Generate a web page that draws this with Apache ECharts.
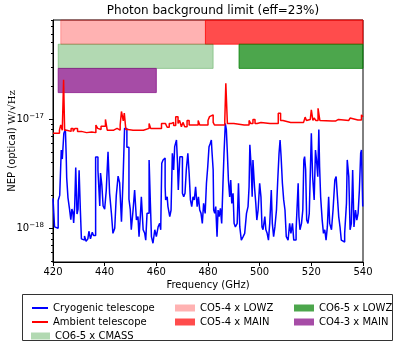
<!DOCTYPE html>
<html>
<head>
<meta charset="utf-8">
<script src="https://cdn.jsdelivr.net/npm/echarts@6/dist/echarts.min.js"></script>
<style>
  html, body { margin: 0; padding: 0; background: #fff; }
  #chart { width: 399px; height: 346px; }
</style>
</head>
<body>
<div id="chart"></div>
<script>
// NEP values in units of 1e-18 W/sqrt(Hz), [frequency GHz, NEP]
const cryogenic = [
  [420.0, 1.88], [420.6, 1.03], [421.3, 1.0], [422.0, 1.8], [422.6, 2.0], [423.2, 5.2], [423.6, 4.3],
  [424.2, 7.4], [424.8, 8.0], [425.1, 4.7], [425.3, 2.9], [425.8, 1.9], [426.4, 1.5], [426.9, 1.2],
  [427.3, 1.5], [427.7, 1.4], [428.0, 1.12], [428.4, 1.6], [428.8, 3.6], [429.3, 1.35], [429.7, 1.5],
  [430.1, 3.4], [430.6, 1.45], [431.0, 0.8], [431.6, 0.78], [432.2, 0.85], [432.8, 0.76], [433.5, 0.8],
  [433.9, 0.94], [434.5, 0.8], [435.2, 0.92], [435.7, 0.86], [436.5, 4.5], [437.4, 3.4], [438.1, 1.6],
  [438.4, 3.2], [438.9, 2.5], [439.4, 1.6], [440.0, 1.5], [440.6, 2.2], [441.3, 5.0], [441.9, 2.1],
  [442.6, 1.38], [443.2, 0.9], [443.9, 1.0], [444.5, 2.0], [445.2, 3.0], [445.8, 2.6], [446.5, 1.15],
  [447.1, 2.7], [447.7, 8.2], [448.6, 5.5], [449.4, 1.85], [449.9, 1.5], [450.3, 0.97], [451.0, 1.47],
  [451.6, 2.24], [452.3, 1.19], [452.9, 1.28], [453.3, 0.84], [453.8, 1.28], [454.2, 1.94], [454.9, 0.97],
  [455.5, 0.9], [455.9, 0.78], [456.4, 1.37], [457.2, 4.22], [457.7, 1.69], [458.1, 0.84], [458.7, 0.73],
  [459.4, 0.97], [460.0, 0.84], [460.7, 1.03], [461.3, 1.11], [461.7, 0.97], [462.1, 3.93], [462.6, 4.22],
  [463.0, 4.4], [463.4, 2.4], [463.6, 1.82], [464.2, 1.94], [464.5, 1.58], [465.2, 1.28], [465.7, 1.47],
  [466.2, 4.86], [466.7, 3.42], [467.1, 5.58], [467.8, 6.43], [468.2, 3.93], [468.5, 2.24], [469.1, 4.52],
  [469.6, 4.52], [470.1, 2.09], [470.6, 1.94], [471.1, 2.09], [471.6, 3.42], [472.2, 4.86], [472.7, 3.19],
  [473.2, 1.82], [473.7, 1.58], [474.2, 1.94], [474.7, 1.82], [475.2, 2.4], [475.8, 1.58], [476.3, 1.94],
  [476.8, 1.47], [477.3, 1.37], [477.8, 1.11], [478.3, 1.69], [478.9, 1.37], [479.4, 2.58], [479.9, 3.66],
  [480.4, 5.58], [480.9, 6.0], [481.3, 6.43], [481.5, 5.2], [482.0, 3.42], [482.2, 1.47], [482.6, 1.37],
  [483.0, 1.58], [483.5, 0.84], [483.9, 1.47], [484.3, 1.28], [484.8, 1.52], [485.3, 1.11], [485.8, 2.58],
  [486.2, 4.86], [486.7, 9.1], [487.1, 8.0], [487.5, 4.86], [487.9, 2.77], [488.4, 1.94], [488.8, 2.77],
  [489.2, 1.69], [489.7, 2.09], [490.1, 1.11], [490.6, 1.03], [491.3, 1.11], [491.8, 2.58], [492.3, 1.03],
  [492.9, 0.78], [493.6, 0.84], [494.2, 0.9], [494.9, 1.37], [495.5, 1.58], [495.9, 2.4], [496.2, 5.8],
  [496.7, 3.66], [497.1, 1.94], [497.4, 4.22], [498.0, 2.4], [498.5, 1.69], [498.9, 1.19], [499.4, 1.47],
  [500.0, 2.58], [500.5, 1.94], [500.9, 1.03], [501.3, 0.97], [502.0, 1.28], [502.4, 0.97], [502.9, 0.9],
  [503.4, 0.78], [503.9, 1.11], [504.5, 2.24], [504.9, 1.11], [505.4, 0.84], [505.9, 1.03], [506.5, 1.47],
  [507.0, 2.77], [507.5, 4.86], [507.9, 6.43], [508.3, 4.52], [508.8, 2.58], [509.3, 1.82], [509.8, 1.47],
  [510.3, 0.84], [511.0, 0.78], [511.6, 1.11], [512.1, 0.9], [512.7, 1.11], [513.2, 0.78], [513.6, 0.78],
  [514.1, 0.97], [514.5, 1.58], [514.9, 2.58], [515.2, 1.28], [515.6, 0.97], [516.2, 1.11], [516.7, 1.47],
  [517.1, 4.22], [517.4, 4.52], [517.8, 3.42], [518.2, 1.19], [518.7, 1.11], [519.2, 1.37], [519.8, 4.86],
  [520.0, 7.4], [520.5, 2.97], [521.1, 1.82], [521.6, 5.2], [522.0, 4.22], [522.5, 2.97], [522.9, 8.0],
  [523.2, 3.66], [523.6, 1.94], [524.2, 1.19], [524.7, 0.9], [525.2, 0.97], [525.7, 0.78], [526.2, 1.03],
  [526.7, 1.94], [527.1, 1.11], [527.8, 0.97], [528.4, 1.47], [529.1, 2.77], [529.6, 2.97], [530.1, 1.94],
  [530.6, 1.28], [531.1, 1.03], [531.6, 0.78], [532.3, 0.75], [532.9, 0.9], [533.6, 1.69], [533.9, 4.22],
  [534.5, 2.97], [535.0, 0.97], [535.5, 1.11], [536.0, 3.42], [536.5, 1.03], [537.1, 1.47], [537.6, 1.19],
  [538.1, 1.37], [538.6, 2.24], [539.1, 4.86], [539.4, 5.2], [539.9, 1.58]
];

const ambient = [
  [420.0, 7.4], [421.5, 7.4], [422.5, 7.9], [423.0, 8.8], [423.6, 7.9], [424.1, 22.8], [424.5, 7.9],
  [425.3, 7.7], [426.0, 7.7], [427.0, 8.2], [427.8, 7.7], [428.5, 8.2], [429.5, 7.7], [431.0, 7.5],
  [433.0, 7.6], [435.0, 7.5], [436.6, 8.8], [437.3, 8.2], [438.0, 8.0], [438.6, 8.6], [440.3, 9.9],
  [441.0, 7.9], [442.0, 7.9], [443.5, 8.2], [444.8, 7.9], [446.0, 8.8], [446.5, 11.7], [447.2, 9.6],
  [447.6, 11.3], [448.2, 8.0], [449.0, 7.9], [451.0, 7.9], [453.0, 7.9], [455.0, 8.2], [457.2, 9.1],
  [457.8, 8.2], [461.0, 8.2], [462.0, 9.1], [463.5, 9.1], [464.2, 8.4], [465.0, 9.1], [465.9, 9.3],
  [466.7, 8.7], [467.5, 10.5], [468.4, 9.1], [469.0, 9.7], [469.7, 8.5], [470.3, 9.3], [471.0, 8.5],
  [471.9, 9.7], [472.7, 8.8], [474.0, 8.8], [476.2, 9.7], [476.8, 8.8], [478.0, 8.8], [480.0, 9.7],
  [480.6, 10.5], [481.3, 10.9], [482.0, 9.3], [482.5, 8.8], [485.0, 8.8], [486.5, 9.7], [486.9, 21.2],
  [487.5, 9.1], [490.0, 8.8], [494.0, 8.8], [495.9, 9.7], [496.5, 9.1], [497.4, 9.9], [498.2, 9.1],
  [499.0, 9.3], [500.5, 9.1], [504.0, 9.1], [507.2, 11.3], [508.1, 9.7], [509.0, 9.3], [512.0, 9.3],
  [515.5, 9.7], [516.2, 9.3], [517.0, 9.7], [517.6, 10.4], [518.1, 9.7], [518.8, 9.9], [519.6, 10.2],
  [520.0, 12.1], [520.6, 9.7], [521.1, 10.2], [521.7, 9.7], [522.6, 12.5], [523.3, 9.7], [524.0, 9.6],
  [528.0, 9.6], [529.5, 9.9], [530.5, 9.7], [534.5, 9.7], [535.0, 10.2], [535.5, 9.8], [538.0, 9.8],
  [539.4, 10.9], [540.0, 10.5]
];

// survey bands: name, start GHz, end GHz, row (0 = top)
const bandNames = ['CO5-4 x LOWZ', 'CO5-4 x MAIN', 'CO6-5 x CMASS', 'CO6-5 x LOWZ', 'CO4-3 x MAIN'];
const bandStart = [423, 479, 422, 492, 422];
const bandEnd = [479, 540, 482, 540, 460];
const bandRow = [0, 0, 1, 1, 2];
const bandColors = ['rgba(255,0,0,0.3)', 'rgba(255,0,0,0.7)', 'rgba(0,128,0,0.3)', 'rgba(0,128,0,0.7)', 'rgba(128,0,128,0.7)'];

const yMajorExp = [-18, -17];
const yMin = -18.308;
const yMax = -16.095;

const toLog = (arr) => arr.map(([f, v]) => [f, Math.log10(v * 1e-18)]);

const minorTicks = [];
for (let e = -19; e <= -17; e++) {
  for (let k = 2; k <= 9; k++) {
    const v = Math.log10(k) + e;
    if (v >= yMin && v <= yMax) minorTicks.push(v);
  }
}

const font = 'DejaVu Sans';
const chart = echarts.init(document.getElementById('chart'));

const bandSeries = bandNames.map((name, i) => ({
  name: name,
  type: 'custom',
  z: 1,
  itemStyle: { color: bandColors[i] },
  data: [[bandStart[i], bandEnd[i], bandRow[i]]],
  renderItem: (params, api) => {
    const x0 = api.coord([api.value(0), yMin])[0];
    const x1 = api.coord([api.value(1), yMin])[0];
    const cs = params.coordSys;
    const h = cs.height * 0.1;
    return {
      type: 'rect',
      shape: { x: x0, y: cs.y + h * api.value(2), width: x1 - x0, height: h },
      style: { fill: bandColors[i], stroke: bandColors[i], lineWidth: 1 },
    };
  },
}));

const legendText = { fontFamily: font, fontSize: 10, color: '#000', lineHeight: 14 };

const option = {
  animation: false,
  title: {
    text: 'Photon background limit (eff=23%)',
    left: 208,
    top: 0,
    textAlign: 'center',
    textStyle: { fontFamily: font, fontSize: 12, fontWeight: 'normal', color: '#000' },
  },
  grid: {
    left: 53, right: 36, top: 20, bottom: 84,
    containLabel: false, outerBoundsMode: 'none',
    show: true, borderColor: '#000', borderWidth: 1,
  },
  legend: [
    {
      left: 27, top: 296, orient: 'vertical', itemWidth: 16, itemHeight: 2, itemGap: 0,
      textStyle: legendText,
      data: [{ name: 'Cryogenic telescope', icon: 'rect' }, { name: 'Ambient telescope', icon: 'rect' }],
    },
    {
      left: 26, top: 324, orient: 'vertical', itemWidth: 19, itemHeight: 7, itemGap: 0,
      textStyle: legendText, data: [{ name: 'CO6-5 x CMASS', icon: 'rect' }],
    },
    {
      left: 170, top: 296, orient: 'vertical', itemWidth: 20, itemHeight: 7, itemGap: 0,
      textStyle: legendText,
      data: [{ name: 'CO5-4 x LOWZ', icon: 'rect' }, { name: 'CO5-4 x MAIN', icon: 'rect' }],
    },
    {
      left: 289, top: 296, orient: 'vertical', itemWidth: 20, itemHeight: 7, itemGap: 0,
      textStyle: legendText,
      data: [{ name: 'CO6-5 x LOWZ', icon: 'rect' }, { name: 'CO4-3 x MAIN', icon: 'rect' }],
    },
  ],
  graphic: [
    {
      type: 'rect',
      shape: { x: 22.5, y: 294.5, width: 370, height: 46 },
      style: { fill: 'none', stroke: '#333', lineWidth: 1 },
      silent: true,
    },
  ],
  xAxis: {
    type: 'value',
    min: 420,
    max: 540,
    interval: 20,
    name: 'Frequency (GHz)',
    nameLocation: 'middle',
    nameGap: 18,
    nameMoveOverlap: false,
    nameTextStyle: { fontFamily: font, fontSize: 10, color: '#000' },
    axisLine: { lineStyle: { color: '#000', width: 1 } },
    axisTick: { length: 4, lineStyle: { color: '#000' } },
    axisLabel: { fontFamily: font, fontSize: 10, color: '#000', margin: 5 },
    splitLine: { show: false },
  },
  yAxis: [
    {
      type: 'value',
      min: yMin,
      max: yMax,
      name: 'NEP (optical) {m|W/√Hz}',
      nameLocation: 'middle',
      nameGap: 36,
      nameMoveOverlap: false,
      nameTextStyle: {
        fontFamily: font, fontSize: 10, color: '#000',
        rich: { m: { fontFamily: 'DejaVu Serif', fontSize: 10, color: '#000' } },
      },
      axisLine: { lineStyle: { color: '#000', width: 1 } },
      axisTick: { length: 4, customValues: yMajorExp, lineStyle: { color: '#000' } },
      axisLabel: {
        customValues: yMajorExp,
        margin: 9,
        formatter: (v) => '{b|10}{s|\u2212' + Math.abs(Math.round(v)) + '}',
        rich: {
          b: { fontFamily: font, fontSize: 10, color: '#000' },
          s: { fontFamily: font, fontSize: 7, color: '#000', padding: [0, 0, 6, 0] },
        },
      },
      splitLine: { show: false },
    },
    {
      type: 'value',
      min: yMin,
      max: yMax,
      position: 'left',
      axisLine: { show: false },
      axisTick: { show: true, length: 2, customValues: minorTicks, lineStyle: { color: '#000' } },
      axisLabel: { show: false },
      splitLine: { show: false },
    },
  ],
  series: [
    {
      name: 'Cryogenic telescope',
      type: 'line',
      step: 'end',
      symbol: 'none',
      z: 3,
      color: '#0000ff',
      lineStyle: { color: '#0000ff', width: 1.5 },
      data: toLog(cryogenic),
    },
    {
      name: 'Ambient telescope',
      type: 'line',
      step: 'end',
      symbol: 'none',
      z: 4,
      color: '#ff0000',
      lineStyle: { color: '#ff0000', width: 1.5 },
      data: toLog(ambient),
    },
    ...bandSeries,
  ],
};

chart.setOption(option);
</script>
</body>
</html>
